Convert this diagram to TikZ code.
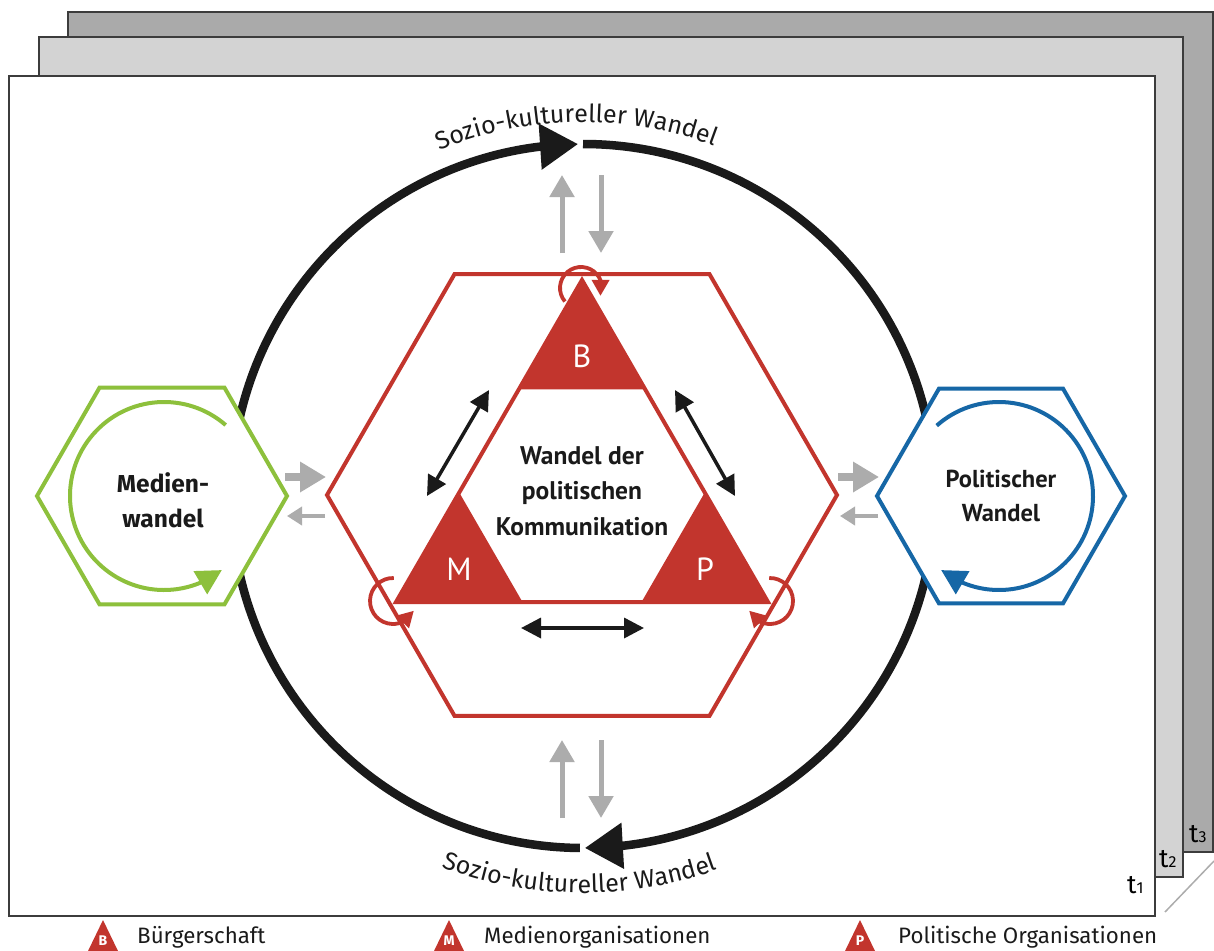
\documentclass[tikz,border=0pt]{standalone}
\usepackage{fontspec}
\setmainfont{PT Sans}
\newfontfamily\dinfont{Fira Sans}
\newfontfamily\myrfont{PT Sans}
\usetikzlibrary{arrows.meta,bending,calc,decorations.text}
\definecolor{fred}{RGB}{194,53,45}
\definecolor{fgreen}{RGB}{141,192,60}
\definecolor{fblue}{RGB}{22,103,166}
\definecolor{fgray}{RGB}{172,172,172}
\definecolor{fback}{RGB}{170,170,170}
\definecolor{fmid}{RGB}{211,211,211}
\definecolor{fblack}{RGB}{26,26,26}
\definecolor{fborder}{RGB}{60,60,60}
\tikzset{
  framebox/.style={draw=fborder, line width=1.5pt},
  tlabel/.style={inner sep=0pt, anchor=base west, font=\dinfont\fontsize{26}{26}\selectfont},
  bigarc/.style={draw=fblack, line width=8.5pt, -{Triangle[length=38pt,width=44pt]}},
  hexbox/.style={line width=4pt, fill=white, line join=miter},
  smallarrow/.style={draw=fred, line width=3.8pt, -{Triangle[length=16pt,width=17pt]}},
  cyclearrow/.style={line width=4pt, -{Triangle[length=25pt,width=26pt]}},
  grayarrow/.style={draw=fgray, line width=5pt, -{Triangle[length=22pt,width=24pt]}},
  graythick/.style={draw=fgray, line width=8pt, -{Triangle[length=26pt,width=29pt]}},
  graythin/.style={draw=fgray, line width=4pt, -{Triangle[length=15pt,width=18pt]}},
  dblarrow/.style={draw=fblack, line width=3.5pt, {Triangle[length=20pt,width=20pt]}-{Triangle[length=20pt,width=20pt]}},
  maintext/.style={inner sep=0pt, align=center, text=fblack, font=\myrfont\bfseries\fontsize{25.5}{35.5}\selectfont},
  sidetext/.style={inner sep=0pt, align=center, text=fblack},
  triletter/.style={inner sep=0pt, text=white, font=\myrfont\fontsize{32}{32}\selectfont},
  legtext/.style={inner sep=0pt, anchor=base west, text=fblack, font=\dinfont\fontsize{22.3}{22.3}\selectfont},
  legletter/.style={inner sep=0pt, text=white, font=\dinfont\bfseries\fontsize{14}{14}\selectfont},
}
\begin{document}
\begin{tikzpicture}[x=1pt, y=-1pt]
\useasboundingbox (0,0) rectangle (1214,950);
% stacked frames
\draw[framebox, fill=fback] (68,12) rectangle (1213,852);
\draw[framebox, fill=fmid] (39,37) rectangle (1183,877);
\draw[framebox, fill=white] (9,76) rectangle (1155,916);
\node[tlabel] (t3) at (1189,842) {t{\fontsize{16}{16}\selectfont 3}};
\node[tlabel] (t2) at (1159,867) {t{\fontsize{16}{16}\selectfont 2}};
\node[tlabel] (t1) at (1127,893) {t{\fontsize{16}{16}\selectfont 1}};
\coordinate (d1) at (1165,912);
\coordinate (d2) at (1214,861);
\draw[fgray, line width=1.5pt] (d1) -- (d2);

% big cycle
\coordinate (C) at (583,496);
\draw[bigarc] ($(C)+(90.5:352)$) arc[start angle=90.5, end angle=269.2, radius=352];
\draw[bigarc] ($(C)+(270:352)$) arc[start angle=270, end angle=449.7, radius=352];
\path[decorate, decoration={text along path, text align=center,
  text={|\dinfont\fontsize{25}{25}\selectfont\color{fblack}|Sozio-kultureller Wandel}}]
  ($(C)+(219:374)$) arc[start angle=219, end angle=319, radius=374];
\path[decorate, decoration={text along path, text align=center,
  text={|\dinfont\fontsize{25}{25}\selectfont\color{fblack}|Sozio-kultureller Wandel}}]
  ($(C)+(135.5:397)$) arc[start angle=135.5, end angle=45.5, radius=397];

% hexagons
\draw[hexbox, draw=fred] (837,495) -- (709.5,715.8) -- (454.5,715.8) -- (327,495) -- (454.5,274.2) -- (709.5,274.2) -- cycle;
\draw[hexbox, draw=fgreen] (287,496) -- (224.5,604.3) -- (99.5,604.3) -- (37,496) -- (99.5,387.7) -- (224.5,387.7) -- cycle;
\draw[hexbox, draw=fblue] (1125,496) -- (1063,603.4) -- (939,603.4) -- (877,496) -- (939,388.6) -- (1063,388.6) -- cycle;

% cycle arrows in side hexagons
\coordinate (cG) at (164,496);
\coordinate (cL) at (999,496);
\draw[cyclearrow, draw=fgreen] ($(cG)+(311:94)$) arc[start angle=311, end angle=52, radius=94];
\draw[cyclearrow, draw=fblue] ($(cL)+(228.5:94)$) arc[start angle=228.5, end angle=488, radius=94];
\node[sidetext, font=\dinfont\bfseries\fontsize{24.5}{35}\selectfont] (medien) at (163,500) {Medien-\\wandel};
\node[sidetext, font=\myrfont\bfseries\fontsize{24.5}{34}\selectfont] (polit) at (1001,496) {Politischer\\Wandel};

% triangle
\coordinate (TA) at (582,280);
\coordinate (TL) at (396,602);
\coordinate (TR) at (768,602);
\fill[fred] (TA) -- ($(TA)!0.34!(TL)$) -- ($(TA)!0.34!(TR)$) -- cycle;
\fill[fred] (TL) -- ($(TL)!0.34!(TA)$) -- ($(TL)!0.34!(TR)$) -- cycle;
\fill[fred] (TR) -- ($(TR)!0.34!(TA)$) -- ($(TR)!0.34!(TL)$) -- cycle;
\draw[fred, line width=4pt, line join=miter] (TA) -- (TL) -- (TR) -- cycle;
\node[triletter] (B) at (582,356) {B};
\node[triletter] (M) at (459,569) {M};
\node[triletter] (P) at (705,569) {P};
\node[maintext] (center) at (582,491) {Wandel der\\politischen\\Kommunikation};

% small self-loops
\coordinate (cB) at (581,288);
\coordinate (cM) at (393,601);
\coordinate (cP) at (770,601);
\draw[smallarrow] ($(cB)+(140:21)$) arc[start angle=140, end angle=382, radius=21];
\draw[smallarrow] ($(cM)+(272:23)$) arc[start angle=272, end angle=25, radius=23];
\draw[smallarrow] ($(cP)+(268:23)$) arc[start angle=268, end angle=515, radius=23];

% black double arrows
\coordinate (bl1) at (427,496); \coordinate (bl2) at (489,390);
\coordinate (br1) at (675,390); \coordinate (br2) at (735,496);
\coordinate (bb1) at (521,628); \coordinate (bb2) at (644,628);
\draw[dblarrow] (bl1) -- (bl2);
\draw[dblarrow] (br1) -- (br2);
\draw[dblarrow] (bb1) -- (bb2);

% gray exchange arrows
\coordinate (tu1) at (562,253); \coordinate (tu2) at (562,175);
\coordinate (td1) at (601,175); \coordinate (td2) at (601,253);
\coordinate (bu1) at (562,818); \coordinate (bu2) at (562,740);
\coordinate (bd1) at (601,740); \coordinate (bd2) at (601,818);
\draw[grayarrow] (tu1) -- (tu2);
\draw[grayarrow] (td1) -- (td2);
\draw[grayarrow] (bu1) -- (bu2);
\draw[grayarrow] (bd1) -- (bd2);
\coordinate (lr1) at (285,477); \coordinate (lr2) at (326,477);
\coordinate (ll1) at (325,516); \coordinate (ll2) at (287,516);
\coordinate (rr1) at (838,477); \coordinate (rr2) at (879,477);
\coordinate (rl1) at (878,516); \coordinate (rl2) at (840,516);
\draw[graythick] (lr1) -- (lr2);
\draw[graythin] (ll1) -- (ll2);
\draw[graythick] (rr1) -- (rr2);
\draw[graythin] (rl1) -- (rl2);

% legend
\fill[fred] (88,951) -- (103,920) -- (118,951) -- cycle;
\node[legletter] (lB) at (103,941) {B};
\node[legtext] (lBt) at (137,943) {Bürgerschaft};
\fill[fred] (434,951) -- (449,920) -- (464,951) -- cycle;
\node[legletter] (lM) at (449,941) {M};
\node[legtext] (lMt) at (484,943) {Medienorganisationen};
\fill[fred] (845,951) -- (860,920) -- (875,951) -- cycle;
\node[legletter] (lP) at (860,941) {P};
\node[legtext] (lPt) at (898,943) {Politische Organisationen};
\end{tikzpicture}
\end{document}
